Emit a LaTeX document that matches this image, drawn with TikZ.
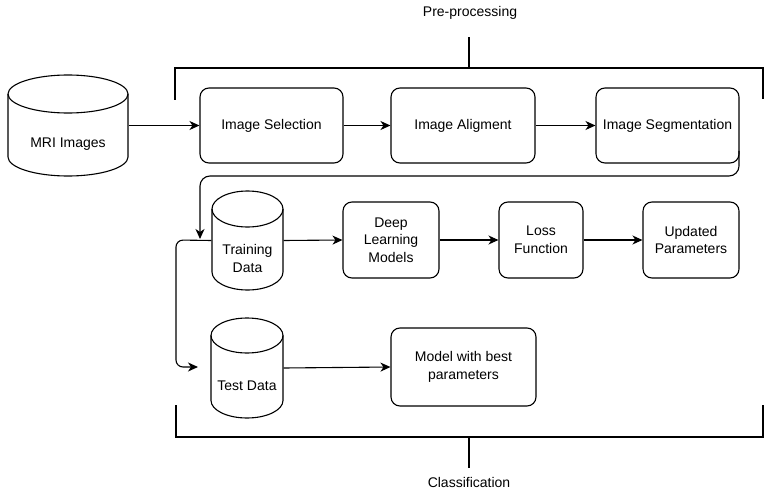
\documentclass[tikz,border=0pt]{standalone}
\usepackage{fontspec}
\setmainfont{Liberation Sans}
\usetikzlibrary{arrows.meta,calc}
\begin{document}
\begin{tikzpicture}[x=1pt,y=1pt,
  line width=1.1pt,
  every node/.style={font=\fontsize{14}{17.5}\selectfont, inner sep=0pt},
  procbox/.style={draw, rounded corners=9pt, align=center, fill=white},
  cylbox/.style={draw=none, inner sep=0pt},
  arr/.style={-{Stealth[length=10pt,width=9pt,inset=3pt]}},
  plain/.style={}
]
\useasboundingbox (0,0) rectangle (767,-489);

% cylinder macro: #1 name, #2 xl, #3 yt, #4 xr, #5 yb, #6 ry, #7 text
\newcommand\mycyl[7]{%
  \pgfmathsetmacro\rxx{(#4-#2)/2}%
  \filldraw[fill=white] (#2,-#3-#6) -- (#2,-#5+#6)
     arc[start angle=180,end angle=360,x radius=\rxx,y radius=#6]
     -- (#4,-#3-#6)
     arc[start angle=0,end angle=180,x radius=\rxx,y radius=#6] -- cycle;
  \draw (#2,-#3-#6) arc[start angle=180,end angle=360,x radius=\rxx,y radius=#6];
  \node[cylbox, minimum width={#4-#2}, minimum height={#5-#3}] (#1) at ({(#2+#4)/2},{-(#3+#5)/2}) {};
  \node[align=center] (#1t) at ({(#2+#4)/2},{-(#3+2*#6+#5)/2}) {#7};
}

\mycyl{mri}{8}{75}{128}{176}{19}{MRI Images}
\mycyl{trn}{212}{191}{283}{290}{18}{Training\\Data}
\mycyl{tst}{211}{318}{283}{418}{17.5}{Test Data}

\node[procbox, minimum width=143, minimum height=75] (sel) at (271.5,-125.5) {Image Selection};
\node[procbox, minimum width=144, minimum height=75] (ali) at (463,-125.5) {Image Aligment};
\node[procbox, minimum width=143, minimum height=75] (seg) at (667.5,-125.5) {Image Segmentation};

\node[procbox, minimum width=96, minimum height=76] (dlm) at (391,-240) {Deep\\Learning\\Models};
\node[procbox, minimum width=84, minimum height=76] (loss) at (541,-240) {Loss\\Function};
\node[procbox, minimum width=96, minimum height=76] (upd) at (691,-240) {Updated\\Parameters};
\node[procbox, minimum width=145, minimum height=78] (best) at (463.5,-367) {Model with best\\parameters};

% labels
\node (pre) at (470,-13) {Pre-processing};
\node (cls) at (469,-482) {Classification};

% brackets
\coordinate (tl) at (175,-100);
\coordinate (tr) at (763,-99);
\coordinate (tm) at (469,-68);
\coordinate (tt) at (469,-37);
\draw (tl) -- (175,-68) -- (763,-68) -- (tr);
\draw (tm) -- (tt);
\coordinate (bl) at (176,-405);
\coordinate (br) at (763,-405);
\coordinate (bm) at (469,-437);
\coordinate (bt) at (469,-468);
\draw (bl) -- (176,-437) -- (763,-437) -- (br);
\draw (bm) -- (bt);

% connectors
\draw[arr] (mri.east) -- (sel.west);
\draw[arr] (sel.east) -- (ali.west);
\draw[arr] (ali.east) -- (seg.west);

\coordinate (segout) at (739,-151);
\coordinate (jn) at (200,-239);
\draw[arr, rounded corners=10pt] (segout) -- (739,-176) -- (200,-176) -- (jn);

\coordinate (tstin) at (198,-367);
\draw[arr, rounded corners=7pt] (trn.west) -- (176,-240) -- (176,-367) -- (tstin);

\draw[arr] (trn.east) -- (dlm.west);
\draw[arr] (dlm.east) -- (loss.west);
\draw[arr] (loss.east) -- (upd.west);
\draw[arr] (tst.east) -- (best.west);
\end{tikzpicture}
\end{document}
